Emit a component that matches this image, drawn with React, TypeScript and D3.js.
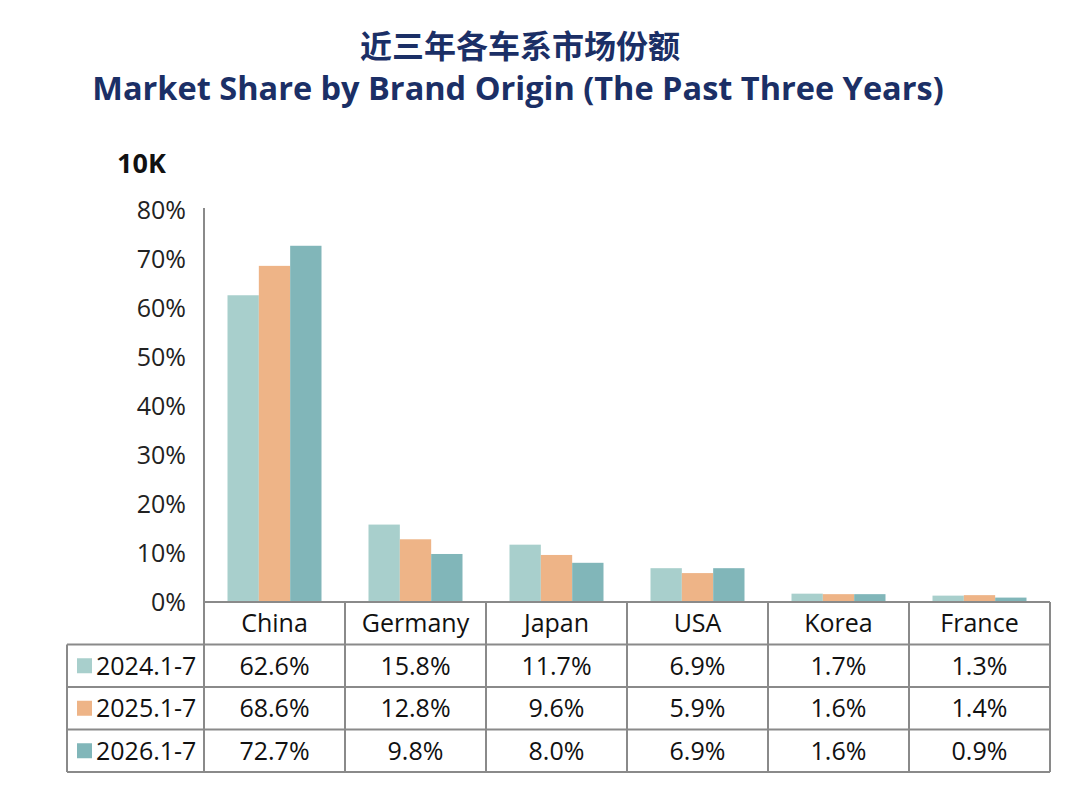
import * as d3 from 'd3'

const categories = ['China', 'Germany', 'Japan', 'USA', 'Korea', 'France']
const seriesNames = ['2024.1-7', '2025.1-7', '2026.1-7']
const share2024 = [62.6, 15.8, 11.7, 6.9, 1.7, 1.3]
const share2025 = [68.6, 12.8, 9.6, 5.9, 1.6, 1.4]
const share2026 = [72.7, 9.8, 8.0, 6.9, 1.6, 0.9]
const yTicks = [0, 10, 20, 30, 40, 50, 60, 70, 80]
const colors = ['#a8cfcc', '#eeb487', '#81b6b9']

const series = [share2024, share2025, share2026]

export default function App() {
  const width = 1080
  const height = 803
  const plotLeft = 204
  const plotRight = 1050
  const plotTop = 210
  const plotBottom = 602
  const tableLeft = 67
  const rowH = 42.5
  const font = '"Open Sans", "Noto Sans", sans-serif'
  const lineColor = '#8a8a8a'

  const x = d3.scaleBand<string>().domain(categories).range([plotLeft, plotRight])
  const inner = d3.scaleBand<string>()
    .domain(seriesNames)
    .range([0, x.bandwidth()])
    .paddingInner(0)
    .paddingOuter(0.75)
  const y = d3.scaleLinear().domain([0, 80]).range([plotBottom, plotTop])

  const rowY = (i: number) => plotBottom + rowH * i
  const fmt = (v: number) => `${v.toFixed(1)}%`

  return (
    <svg width={width} height={height} style={{ position: 'absolute', left: 0, top: 0, background: '#fff' }}>
      {/* titles */}
      <text x={520} y={58} textAnchor="middle" fontFamily='"Noto Sans CJK SC", sans-serif'
        fontWeight={700} fontSize={32} fill="#1b2f66">近三年各车系市场份额</text>
      <text x={518} y={100} textAnchor="middle" fontFamily={font}
        fontWeight={700} fontSize={32.5} fill="#1b2f66">Market Share by Brand Origin (The Past Three Years)</text>
      <text x={117} y={173} fontFamily={font} fontWeight={700} fontSize={27} fill="#111">10K</text>

      {/* y axis */}
      <line x1={plotLeft} x2={plotLeft} y1={plotTop - 2} y2={plotBottom} stroke={lineColor} strokeWidth={2} />
      {yTicks.map(t => (
        <text key={t} x={186} y={y(t)} dy="0.35em" textAnchor="end" fontFamily={font} fontSize={25} fill="#222">
          {`${t}%`}
        </text>
      ))}

      {/* bars */}
      {categories.map((c, ci) => (
        <g key={c} transform={`translate(${x(c)},0)`}>
          {seriesNames.map((s, si) => (
            <rect key={s} x={inner(s)} width={inner.bandwidth()} y={y(series[si][ci])}
              height={plotBottom - y(series[si][ci])} fill={colors[si]} />
          ))}
        </g>
      ))}

      {/* data table */}
      <g fontFamily={font} fontSize={25} fill="#111">
        <line x1={plotLeft} x2={plotRight} y1={rowY(0)} y2={rowY(0)} stroke={lineColor} strokeWidth={2} />
        {[1, 2, 3, 4].map(i => (
          <line key={i} x1={tableLeft} x2={plotRight} y1={rowY(i)} y2={rowY(i)} stroke={lineColor} strokeWidth={2} />
        ))}
        <line x1={tableLeft} x2={tableLeft} y1={rowY(1)} y2={rowY(4)} stroke={lineColor} strokeWidth={2} />
        {categories.map(c => (
          <line key={c} x1={x(c)!} x2={x(c)!} y1={rowY(0)} y2={rowY(4)} stroke={lineColor} strokeWidth={2} />
        ))}
        <line x1={plotRight} x2={plotRight} y1={rowY(0)} y2={rowY(4)} stroke={lineColor} strokeWidth={2} />

        {categories.map(c => (
          <text key={c} x={x(c)! + x.bandwidth() / 2} y={rowY(0.5)} dy="0.35em" textAnchor="middle">{c}</text>
        ))}
        {seriesNames.map((s, si) => (
          <g key={s}>
            <rect x={77} y={rowY(si + 1.5) - 7.5} width={15} height={15} fill={colors[si]} />
            <text x={96} y={rowY(si + 1.5)} dy="0.35em">{s}</text>
            {categories.map((c, ci) => (
              <text key={c} x={x(c)! + x.bandwidth() / 2} y={rowY(si + 1.5)} dy="0.35em" textAnchor="middle">
                {fmt(series[si][ci])}
              </text>
            ))}
          </g>
        ))}
      </g>
    </svg>
  )
}
